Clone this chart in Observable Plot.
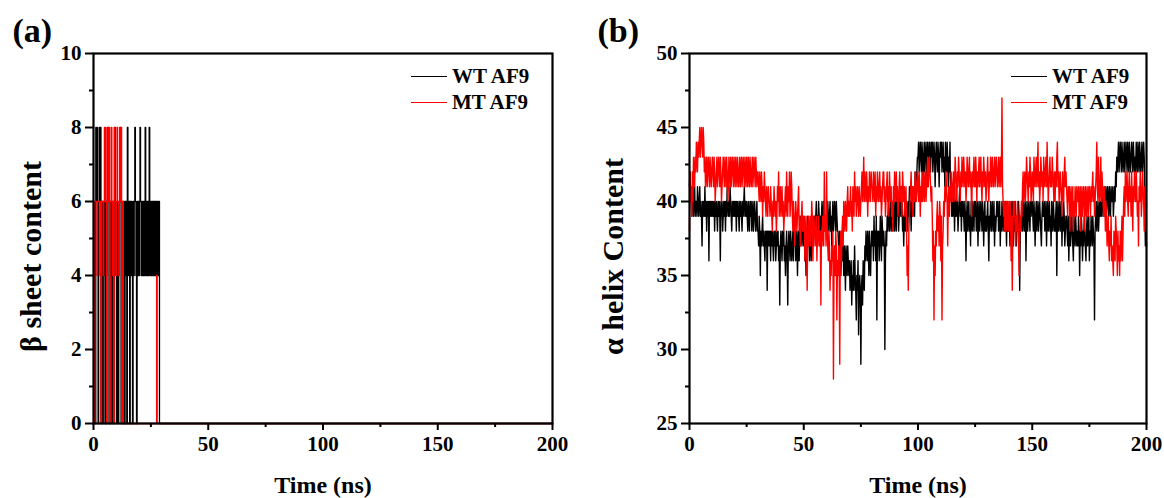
<!DOCTYPE html>
<html>
<head>
<meta charset="utf-8">
<script src="https://cdn.jsdelivr.net/npm/d3@7"></script>
<script src="https://cdn.jsdelivr.net/npm/@observablehq/plot@0.6"></script>
<style>
  body { margin: 0; background: #fff; }
  #wrap { position: relative; width: 1164px; height: 498px; display: flex; font-family: "Liberation Serif", "Times New Roman", serif; font-weight: bold; color: #000; }
  .panel { position: relative; width: 582px; height: 498px; }
  .legend { position: absolute; font-size: 21px; font-weight: bold; line-height: 26px; }
  .li { display: flex; align-items: center; height: 26px; white-space: nowrap; }
  .sw { width: 36px; height: 0; border-top: 1.5px solid; margin-right: 5px; }
</style>
</head>
<body>
<div id="wrap">
  <div class="panel" id="pa"></div>
  <div class="panel" id="pb"></div>
</div>
<script>
// ---------- Data ----------
const seriesNames = ["WT AF9", "MT AF9"];
const seriesColors = ["#000000", "#ff0000"];

// (a) beta-sheet content, 0.25 ns frames from 0 to 30 ns, then final frame at 200 ns
const betaTimeEnd = 200;
const betaWT = [
  0,0,0,0,8,6,8,6,0,6, 8,6,8,0,4,6,0,6,4,6,
  0,0,6,4,6,8,6,0,0,6, 4,6,0,6,6,0,6,8,6,4,
  0,6,6,0,4,6,8,6,0,6, 4,0,6,6,0,6,4,6,0,8,
  6,4,6,0,6,4,6,4,0,6, 4,6,8,6,4,0,6,4,6,4,
  6,8,6,4,6,4,6,4,6,4, 8,6,4,6,4,6,4,8,6,4,
  6,4,6,4,6,4,6,4,6,4, 6,4,6,4,6,0,0,0,0,0,
  0,
  0
];
const betaMT = [
  0,0,6,6,6,6,4,6,6,6, 6,4,6,0,6,6,6,4,6,8,
  6,8,6,0,6,8,6,8,0,6, 6,8,6,4,6,0,8,6,6,4,
  6,8,6,6,4,6,8,6,8,0, 6,6,0,0,0,0,0,0,0,0,
  0,0,0,0,0,0,0,0,0,0, 0,0,0,0,0,0,0,0,0,0,
  0,0,0,0,0,0,0,0,0,0, 0,0,0,0,0,0,0,0,0,0,
  0,0,0,0,0,0,0,0,0,0, 4,0,0,0,0,0,0,0,0,0,
  0,
  0
];

// (b) alpha-helix content, 0.25 ns frames from 0 to 200 ns (20 frames per row = 5 ns)
const helixWT = [
  41,42,40,41,39,40,41,39,40,41,39,40,40,39,41,40,39,40,41,39,
  40,39,37,40,39,40,39,41,39,40,38,40,39,40,36,40,39,40,39,40,
  39,40,39,40,38,40,39,40,39,38,40,39,40,39,36,40,39,40,38,39,
  40,39,40,38,40,39,41,40,39,40,39,41,40,39,38,40,39,40,39,40,
  39,40,38,40,39,40,39,38,40,39,40,39,38,40,39,40,41,39,40,39,
  40,39,38,40,39,38,40,39,40,38,39,40,38,39,40,39,38,39,40,38,
  38,37,39,38,35,38,37,38,39,37,38,37,36,38,37,38,34,38,37,38,
  37,38,36,38,37,38,37,36,38,37,38,36,37,38,37,38,36,37,33,37,
  38,37,36,38,37,38,36,37,35,37,38,36,33,37,38,37,36,38,37,36,
  37,38,36,39,37,38,36,37,38,35,37,38,36,38,37,39,38,37,39,38,
  37,38,36,38,35,37,38,39,37,38,36,37,38,36,37,38,39,37,38,39,
  38,39,40,38,39,38,40,39,37,39,38,39,40,38,39,40,38,39,38,39,
  39,38,40,39,38,39,40,38,39,37,39,40,38,39,40,39,38,40,39,38,
  38,37,36,38,37,35,37,38,36,37,35,37,36,34,37,36,35,37,36,35,
  36,34,35,36,33,35,34,36,34,37,35,34,32,35,34,36,31,34,35,34,
  29,34,35,33,36,35,34,37,36,38,37,36,38,37,35,38,36,35,37,38,
  37,38,36,39,37,38,36,39,32,38,37,38,36,37,39,38,36,39,38,37,
  38,37,30,36,38,37,39,38,40,39,38,39,40,38,39,40,38,39,40,38,
  39,40,38,41,39,40,38,39,41,40,39,41,40,38,39,37,39,40,38,39,
  40,39,38,40,39,41,39,40,38,40,41,39,40,41,39,42,40,41,42,43,
  43,44,42,43,44,43,42,44,43,41,43,44,42,43,44,43,41,44,43,42,
  44,43,42,44,43,44,42,43,44,43,41,43,44,43,42,44,43,41,43,44,
  43,44,42,43,44,42,43,41,44,43,42,44,43,41,43,42,44,40,41,39,
  40,39,41,40,38,40,39,41,39,40,38,39,40,41,39,40,38,40,39,40,
  39,38,40,39,36,39,40,38,39,40,38,39,37,40,39,38,40,39,38,40,
  39,40,38,39,40,37,39,40,38,39,40,39,38,40,39,37,39,40,38,39,
  38,39,40,38,36,39,38,40,39,38,40,39,38,40,37,39,38,39,40,39,
  40,38,39,40,37,39,38,40,39,38,40,39,38,40,39,37,40,38,39,38,
  39,37,38,40,39,38,40,37,39,38,40,39,37,38,39,38,40,39,34,38,
  38,39,40,38,39,40,38,39,40,36,39,40,38,39,40,39,38,40,39,40,
  40,39,38,40,39,37,39,40,38,39,40,38,39,40,39,38,37,39,40,39,
  39,40,38,39,40,37,39,40,38,39,40,38,39,37,40,39,38,40,39,38,
  38,39,40,35,39,40,38,39,40,38,39,40,37,39,38,40,39,37,38,39,
  39,38,37,39,36,38,39,37,38,40,38,37,36,39,38,37,39,38,37,38,
  37,39,38,35,38,37,39,38,36,38,37,39,38,37,36,38,39,37,38,39,
  36,38,37,39,38,37,39,38,37,32,38,39,40,38,39,40,38,39,40,39,
  40,39,41,40,39,40,41,39,40,41,39,40,41,40,39,41,40,39,41,40,
  40,41,39,40,41,40,42,41,43,42,43,44,42,43,44,43,42,44,43,42,
  43,44,42,43,44,43,42,44,43,42,44,43,42,43,44,43,42,44,43,42,
  43,42,44,43,42,44,43,42,44,43,42,43,44,42,43,44,43,40,37,38,
  37
];
const helixMT = [
  38,42,40,41,39,42,40,43,42,41,43,42,44,43,42,44,43,44,45,43,
  44,45,44,43,45,44,42,43,41,42,43,41,42,43,42,41,43,42,41,42,
  43,42,41,43,42,40,41,42,43,41,42,43,42,41,43,42,40,41,42,43,
  42,41,43,42,41,43,42,40,41,43,42,41,43,41,42,43,42,41,43,42,
  41,43,42,41,43,42,41,42,43,41,42,43,41,42,43,42,41,43,42,41,
  43,42,41,43,42,41,43,42,41,42,43,41,42,43,42,41,43,42,41,42,
  42,41,40,42,41,40,42,41,39,41,40,42,41,40,39,41,40,39,41,40,
  40,39,41,40,39,38,40,39,41,40,39,40,38,39,41,40,42,39,40,41,
  39,40,41,39,40,38,39,40,41,39,42,40,39,41,40,42,39,40,42,41,
  39,38,40,39,37,38,40,39,38,39,40,41,38,39,37,38,39,40,38,39,
  38,39,36,38,39,37,34,38,39,37,38,39,37,38,40,39,36,38,39,38,
  37,38,39,36,38,37,39,38,37,38,33,38,37,39,38,37,42,38,39,37,
  42,38,37,36,38,37,34,36,35,37,36,38,28,36,37,35,38,37,32,36,
  35,37,36,29,37,38,36,38,39,37,40,39,38,40,39,38,40,41,39,40,
  39,40,41,39,40,38,41,40,39,42,40,41,39,40,41,40,39,41,40,39,
  40,41,42,40,41,43,40,42,41,40,42,41,39,41,40,42,41,40,42,41,
  41,40,42,41,40,42,39,41,40,42,41,40,41,42,40,41,39,40,41,42,
  42,40,41,39,40,41,42,40,41,39,42,41,40,41,39,40,38,41,40,42,
  40,41,42,40,41,39,40,41,42,40,41,40,39,42,41,40,41,39,40,41,
  38,35,37,34,38,39,40,41,42,40,41,39,40,41,40,42,41,40,41,42,
  41,40,42,41,39,41,40,42,40,41,42,40,41,42,40,41,42,43,41,42,
  43,42,41,40,41,39,36,38,32,37,35,38,37,39,40,38,39,37,40,39,
  36,39,32,37,38,40,39,41,40,42,41,40,37,40,41,39,41,40,42,41,
  40,41,42,40,41,43,42,41,40,42,41,43,42,41,40,42,41,43,42,41,
  43,42,41,42,40,41,43,42,41,42,43,41,42,41,39,42,41,42,43,41,
  41,43,42,40,42,41,42,43,41,42,43,41,40,42,41,43,42,41,42,40,
  41,42,43,41,40,42,41,43,42,41,43,42,41,42,43,41,42,43,42,41,
  42,43,41,42,43,41,42,47,41,40,39,40,38,39,40,38,40,39,38,40,
  38,40,39,36,39,34,38,40,39,40,38,37,39,38,40,39,37,35,38,39,
  38,40,39,41,42,40,41,42,40,41,43,42,41,40,42,41,43,42,40,41,
  42,41,40,43,42,41,42,43,41,42,44,41,42,40,41,43,42,41,42,40,
  43,42,41,42,43,41,44,42,40,41,42,43,41,42,41,43,42,41,40,42,
  40,42,41,43,44,41,42,40,41,42,41,40,39,42,41,40,42,43,41,42,
  41,40,39,41,40,41,38,40,41,39,40,41,38,40,39,41,40,39,41,40,
  40,41,39,40,41,38,40,41,39,40,41,40,38,41,40,39,41,40,39,41,
  41,40,39,41,40,41,42,40,41,39,40,41,42,44,41,40,43,41,40,41,
  43,40,42,41,40,39,41,40,38,40,39,37,38,39,37,36,38,37,39,36,
  37,36,35,38,37,36,39,38,37,35,38,36,37,35,38,36,37,39,36,38,
  40,41,39,42,40,41,42,40,39,41,42,40,41,39,42,40,38,41,40,42,
  41,40,42,41,39,40,37,41,40,42,41,39,40,42,41,40,38,41,40,39,
  40
];

// Axis ticks
const xMajor = [0, 50, 100, 150, 200];
const xMinor = [25, 75, 125, 175];
const yMajorA = [0, 2, 4, 6, 8, 10];
const yMinorA = [1, 3, 5, 7, 9];
const yMajorB = [25, 30, 35, 40, 45, 50];
const yMinorB = [27.5, 32.5, 37.5, 42.5, 47.5];

// ---------- Tables ----------
const betaTimes = d3.range(0, 30.001, 0.25).concat([betaTimeEnd]);
const betaRows = betaTimes.map((t, i) => ({ t, wt: betaWT[i], mt: betaMT[i] }));
const helixTimes = d3.range(0, 200.001, 0.25);
const helixRows = helixTimes.map((t, i) => ({ t, wt: helixWT[i], mt: helixMT[i] }));

const font = { fontFamily: "'Liberation Serif', 'Times New Roman', serif", fontWeight: "bold", fontSize: "21px", color: "#000", background: "#fff", overflow: "visible" };

function panel({ rows, yDomain, yMajor, yMinor, marginLeft, marginRight, yLabel, tag, tagDx, yLabelDx, curve, lineWidth }) {
  return Plot.plot({
    width: 582, height: 498,
    marginLeft, marginRight, marginTop: 53, marginBottom: 75,
    style: font,
    x: { domain: [0, 200] },
    y: { domain: yDomain },
    marks: [
      Plot.line(rows, { x: "t", y: "wt", stroke: seriesColors[0], strokeWidth: lineWidth, curve }),
      Plot.line(rows, { x: "t", y: "mt", stroke: seriesColors[1], strokeWidth: lineWidth, curve }),
      Plot.frame({ stroke: "#000", strokeWidth: 2.2 }),
      Plot.axisX({ ticks: xMajor, tickSize: 7, tickPadding: 6, stroke: "#000", strokeWidth: 2, label: null, fontSize: 21, tickFormat: d => String(d) }),
      Plot.axisX({ ticks: xMinor, tickSize: 4, stroke: "#000", strokeWidth: 2, label: null, tickFormat: () => "" }),
      Plot.axisY({ ticks: yMajor, tickSize: 8, tickPadding: 4, stroke: "#000", strokeWidth: 2, label: null, fontSize: 21, tickFormat: d => String(d) }),
      Plot.axisY({ ticks: yMinor, tickSize: 4, stroke: "#000", strokeWidth: 2, label: null, tickFormat: () => "" }),
      Plot.text(["Time (ns)"], { text: d => d, frameAnchor: "bottom", textAnchor: "middle", lineAnchor: "middle", dy: 62, fontSize: 24 }),
      Plot.text([yLabel], { text: d => d, frameAnchor: "left", textAnchor: "middle", lineAnchor: "middle", dx: yLabelDx, dy: 18, rotate: -90, fontSize: 30 }),
      Plot.text([tag], { text: d => d, frameAnchor: "top-left", textAnchor: "start", lineAnchor: "middle", dx: tagDx, dy: -22, fontSize: 34 })
    ]
  });
}

const chartA = panel({ rows: betaRows, yDomain: [0, 10], yMajor: yMajorA, yMinor: yMinorA, marginLeft: 93, marginRight: 30, yLabel: "β sheet content", tag: "(a)", tagDx: -81, yLabelDx: -62, curve: "step-after", lineWidth: 1.3 });
const chartB = panel({ rows: helixRows, yDomain: [25, 50], yMajor: yMajorB, yMinor: yMinorB, marginLeft: 107, marginRight: 18, yLabel: "α helix Content", tag: "(b)", tagDx: -92, yLabelDx: -76, curve: "linear", lineWidth: 1.4 });

document.getElementById("pa").appendChild(chartA);
document.getElementById("pb").appendChild(chartB);

function legend(el, left, top) {
  const div = document.createElement("div");
  div.className = "legend";
  div.style.left = left + "px";
  div.style.top = top + "px";
  seriesNames.forEach((name, i) => {
    const row = document.createElement("div");
    row.className = "li";
    const sw = document.createElement("span");
    sw.className = "sw";
    sw.style.borderColor = seriesColors[i];
    const tx = document.createElement("span");
    tx.textContent = name;
    row.appendChild(sw);
    row.appendChild(tx);
    div.appendChild(row);
  });
  el.appendChild(div);
}
legend(document.getElementById("pa"), 411, 63);
legend(document.getElementById("pb"), 1011 - 582, 63);
</script>
</body>
</html>
